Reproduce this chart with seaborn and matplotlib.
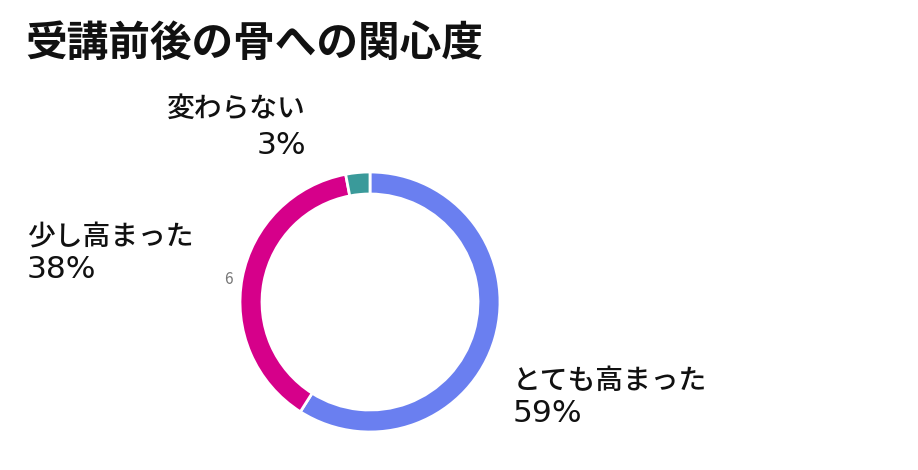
import matplotlib
matplotlib.use("Agg")
import matplotlib.pyplot as plt
import seaborn as sns

# ── Data ────────────────────────────────────────────────────
labels = ["とても高まった", "少し高まった", "変わらない"]
shares = [59, 38, 3]
colors = ["#6a7ff0", "#d6008a", "#3a9a9a"]

# ── Style ───────────────────────────────────────────────────
sns.set_theme(style="white")
plt.rcParams['font.family'] = ['Noto Sans CJK JP', 'DejaVu Sans']

W, H = 918, 470
fig = plt.figure(figsize=(W / 100, H / 100), dpi=100)
ax = fig.add_axes([0, 0, 1, 1])
ax.set_xlim(0, W)
ax.set_ylim(0, H)
ax.set_aspect('equal')
ax.axis('off')

# donut, clockwise from 12 o'clock
ax.pie(shares, colors=colors, startangle=90, counterclock=False,
       center=(370, H - 302), radius=130,
       wedgeprops=dict(width=22, edgecolor='white', linewidth=2))
ax.set_xlim(0, W)
ax.set_ylim(0, H)

fig.text(25 / W, 1 - 44 / H, "受講前後の骨への関心度", fontsize=30,
         fontweight='bold', va='center', ha='left', color='#111111')

# label name + percentage (name in CJK font, numbers in DejaVu)
label_pos = {
    2: (306, 108, 146, 'right'),
    1: (27, 237, 270, 'left'),
    0: (513, 380, 413, 'left'),
}
for i, (x, y_name, y_pct, ha) in label_pos.items():
    fig.text(x / W, 1 - y_name / H, labels[i], fontsize=20, fontweight='medium',
             ha=ha, va='center', color='#111111')
    fig.text(x / W, 1 - y_pct / H, f"{shares[i]}%", fontsize=22.5,
             family=['DejaVu Sans', 'Noto Sans CJK JP'],
             ha=ha, va='center', color='#111111')

# leftover fragment of a hidden label
fig.text(228 / W, 1 - 280 / H, "6", fontsize=11, ha='center', va='center',
         color='#777777')

fig.savefig("out.png", dpi=100)
